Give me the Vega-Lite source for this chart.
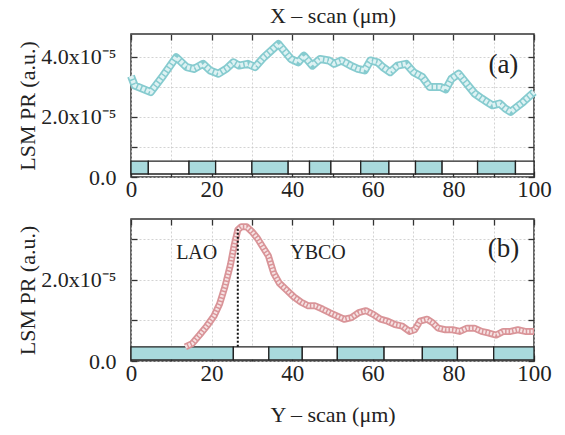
{
  "$schema": "https://vega.github.io/schema/vega-lite/v6.json",
  "padding": {"left": 16, "top": 3, "right": 5, "bottom": 5},
  "background": "white",
  "bounds": "flush",
  "spacing": 42,
  "config": {
    "font": "Liberation Serif",
    "view": {"stroke": "#333", "strokeWidth": 1.5},
    "axis": {
      "labelFont": "Liberation Serif",
      "titleFont": "Liberation Serif",
      "labelColor": "#222",
      "titleColor": "#222",
      "labelFontSize": 22,
      "titleFontSize": 22,
      "titleFontWeight": "normal",
      "tickColor": "#333",
      "tickSize": -6,
      "tickWidth": 1.3,
      "domain": false,
      "gridColor": "#c8c8c8",
      "gridDash": [2, 2],
      "gridWidth": 0.8
    }
  },
  "datasets": {
    "xscan": [
      {"pos": 0, "pr": 3.35e-5}, {"pos": 0.9, "pr": 3.04e-5}, {"pos": 4.9, "pr": 2.82e-5},
      {"pos": 8, "pr": 3.37e-5}, {"pos": 11.2, "pr": 3.98e-5}, {"pos": 13.8, "pr": 3.65e-5},
      {"pos": 15.6, "pr": 3.59e-5}, {"pos": 17.9, "pr": 3.76e-5}, {"pos": 19.6, "pr": 3.54e-5},
      {"pos": 21.7, "pr": 3.43e-5}, {"pos": 23.7, "pr": 3.6e-5}, {"pos": 25.4, "pr": 3.81e-5},
      {"pos": 26.8, "pr": 3.7e-5}, {"pos": 29, "pr": 3.76e-5}, {"pos": 30.8, "pr": 3.65e-5},
      {"pos": 33, "pr": 3.98e-5}, {"pos": 36.6, "pr": 4.42e-5}, {"pos": 39.7, "pr": 3.92e-5},
      {"pos": 41.5, "pr": 3.81e-5}, {"pos": 42.9, "pr": 4.03e-5}, {"pos": 45, "pr": 3.7e-5},
      {"pos": 46.9, "pr": 3.92e-5}, {"pos": 49.1, "pr": 3.87e-5}, {"pos": 50.4, "pr": 3.76e-5},
      {"pos": 52.2, "pr": 3.87e-5}, {"pos": 54.5, "pr": 3.7e-5}, {"pos": 56.3, "pr": 3.59e-5},
      {"pos": 58, "pr": 3.54e-5}, {"pos": 59.4, "pr": 3.87e-5}, {"pos": 61.2, "pr": 3.81e-5},
      {"pos": 62.5, "pr": 3.65e-5}, {"pos": 64.3, "pr": 3.48e-5}, {"pos": 66.1, "pr": 3.7e-5},
      {"pos": 68.3, "pr": 3.76e-5}, {"pos": 70.1, "pr": 3.48e-5}, {"pos": 72.3, "pr": 3.32e-5},
      {"pos": 74.1, "pr": 2.99e-5}, {"pos": 76.8, "pr": 2.99e-5}, {"pos": 78.1, "pr": 2.91e-5},
      {"pos": 79.5, "pr": 3.26e-5}, {"pos": 81.3, "pr": 3.43e-5}, {"pos": 83, "pr": 3.15e-5},
      {"pos": 85.3, "pr": 2.77e-5}, {"pos": 87.1, "pr": 2.6e-5}, {"pos": 88.4, "pr": 2.49e-5},
      {"pos": 89.7, "pr": 2.38e-5}, {"pos": 91.5, "pr": 2.44e-5}, {"pos": 92.9, "pr": 2.27e-5},
      {"pos": 94.2, "pr": 2.16e-5}, {"pos": 95.5, "pr": 2.3e-5}, {"pos": 97.3, "pr": 2.49e-5},
      {"pos": 100, "pr": 2.82e-5}
    ],
    "yscan": [
      {"pos": 13.5, "pr": 0.35e-5}, {"pos": 15.2, "pr": 0.43e-5}, {"pos": 17, "pr": 0.64e-5},
      {"pos": 18.8, "pr": 0.86e-5}, {"pos": 20.6, "pr": 1.11e-5}, {"pos": 22, "pr": 1.41e-5},
      {"pos": 23.3, "pr": 1.83e-5}, {"pos": 24.7, "pr": 2.38e-5}, {"pos": 25.6, "pr": 2.85e-5},
      {"pos": 26.5, "pr": 3.23e-5}, {"pos": 27.4, "pr": 3.31e-5}, {"pos": 28.7, "pr": 3.31e-5},
      {"pos": 30, "pr": 3.19e-5}, {"pos": 31.4, "pr": 3.02e-5}, {"pos": 32.7, "pr": 2.81e-5},
      {"pos": 34.1, "pr": 2.59e-5}, {"pos": 35.4, "pr": 2.17e-5}, {"pos": 36.8, "pr": 1.92e-5},
      {"pos": 38.6, "pr": 1.75e-5}, {"pos": 40.4, "pr": 1.58e-5}, {"pos": 42.2, "pr": 1.45e-5},
      {"pos": 44, "pr": 1.36e-5}, {"pos": 45.7, "pr": 1.36e-5}, {"pos": 47.5, "pr": 1.28e-5},
      {"pos": 49.3, "pr": 1.19e-5}, {"pos": 51.1, "pr": 1.11e-5}, {"pos": 52.9, "pr": 1.03e-5},
      {"pos": 54.7, "pr": 1.07e-5}, {"pos": 56.5, "pr": 1.19e-5}, {"pos": 58.3, "pr": 1.24e-5},
      {"pos": 60.1, "pr": 1.15e-5}, {"pos": 61.9, "pr": 1.03e-5}, {"pos": 63.7, "pr": 0.98e-5},
      {"pos": 65.5, "pr": 0.9e-5}, {"pos": 67.3, "pr": 0.86e-5}, {"pos": 69.1, "pr": 0.73e-5},
      {"pos": 70.4, "pr": 0.77e-5}, {"pos": 71.7, "pr": 0.98e-5}, {"pos": 73.5, "pr": 1.03e-5},
      {"pos": 74.9, "pr": 0.94e-5}, {"pos": 76.2, "pr": 0.81e-5}, {"pos": 78, "pr": 0.77e-5},
      {"pos": 79.8, "pr": 0.77e-5}, {"pos": 81.6, "pr": 0.73e-5}, {"pos": 83.4, "pr": 0.81e-5},
      {"pos": 85.2, "pr": 0.81e-5}, {"pos": 87, "pr": 0.73e-5}, {"pos": 88.8, "pr": 0.69e-5},
      {"pos": 90.6, "pr": 0.64e-5}, {"pos": 92.4, "pr": 0.73e-5}, {"pos": 94.2, "pr": 0.73e-5},
      {"pos": 96, "pr": 0.77e-5}, {"pos": 97.8, "pr": 0.73e-5}, {"pos": 100, "pr": 0.73e-5}
    ],
    "xstrips": [
      {"start": 0, "end": 4.3, "kind": "shaded"}, {"start": 4.3, "end": 14.4, "kind": "blank"},
      {"start": 14.4, "end": 21, "kind": "shaded"}, {"start": 21, "end": 30, "kind": "blank"},
      {"start": 30, "end": 39, "kind": "shaded"}, {"start": 39, "end": 44.3, "kind": "blank"},
      {"start": 44.3, "end": 49.6, "kind": "shaded"}, {"start": 49.6, "end": 57, "kind": "blank"},
      {"start": 57, "end": 64, "kind": "shaded"}, {"start": 64, "end": 70.6, "kind": "blank"},
      {"start": 70.6, "end": 77.2, "kind": "shaded"}, {"start": 77.2, "end": 86, "kind": "blank"},
      {"start": 86, "end": 95.4, "kind": "shaded"}, {"start": 95.4, "end": 100, "kind": "blank"}
    ],
    "ystrips": [
      {"start": 0, "end": 25.4, "kind": "shaded"}, {"start": 25.4, "end": 34.2, "kind": "blank"},
      {"start": 34.2, "end": 42.5, "kind": "shaded"}, {"start": 42.5, "end": 51.2, "kind": "blank"},
      {"start": 51.2, "end": 62.8, "kind": "shaded"}, {"start": 62.8, "end": 72.3, "kind": "blank"},
      {"start": 72.3, "end": 81, "kind": "shaded"}, {"start": 81, "end": 90, "kind": "blank"},
      {"start": 90, "end": 100, "kind": "shaded"}
    ]
  },
  "vconcat": [
    {
      "width": 403,
      "height": 143,
      "layer": [
        {
          "data": {"name": "xstrips"},
          "mark": {"type": "rect", "stroke": "#222", "strokeWidth": 1.3},
          "encoding": {
            "x": {"field": "start", "type": "quantitative",
              "scale": {"domain": [0, 100], "nice": false, "zero": false},
              "axis": {"orient": "bottom", "values": [0,10,20,30,40,50,60,70,80,90,100],
                "labelExpr": "datum.value % 20 == 0 ? datum.value : ''", "labelPadding": 7, "labelFontSize": 23, "title": null, "grid": true, "labelFlush": false}},
            "x2": {"field": "end"},
            "y": {"datum": 0.1e-5, "type": "quantitative",
              "scale": {"domain": [0, 4.75e-5], "nice": false, "zero": false},
              "axis": {"orient": "left", "values": [0, 1e-5, 2e-5, 3e-5, 4e-5],
                "labelExpr": "datum.value == 0 ? '0.0' : (round(datum.value*1e5) % 2 == 0 ? format(datum.value*1e5, '.1f') + 'x10⁻⁵' : '')",
                "labelPadding": 21, "title": "LSM PR (a.u.)", "titlePadding": 1, "grid": true}},
            "y2": {"datum": 0.53e-5},
            "fill": {"field": "kind", "type": "nominal",
              "scale": {"domain": ["shaded", "blank"], "range": ["#a9dadd", "#ffffff"]}, "legend": null}
          }
        },
        {
          "data": {"name": "xscan"},
          "mark": {"type": "line", "stroke": "#86cbcf", "strokeWidth": 8, "strokeJoin": "round"},
          "encoding": {
            "x": {"field": "pos", "type": "quantitative",
              "axis": {"orient": "top", "values": [0,10,20,30,40,50,60,70,80,90,100], "labels": false,
                "title": "X – scan (μm)", "titlePadding": 6, "grid": false}},
            "y": {"field": "pr", "type": "quantitative",
              "axis": {"orient": "right", "values": [0, 1e-5, 2e-5, 3e-5, 4e-5], "labels": false, "title": null, "grid": false}}
          }
        },
        {
          "data": {"name": "xscan"},
          "mark": {"type": "line", "stroke": "#def2f3", "strokeWidth": 4.5, "strokeJoin": "round", "strokeDash": [3, 1.5]},
          "encoding": {
            "x": {"field": "pos", "type": "quantitative", "axis": null},
            "y": {"field": "pr", "type": "quantitative", "axis": null}
          }
        },
        {
          "data": {"values": [{"pos": 92.4, "pr": 3.72e-5, "label": "(a)"}]},
          "mark": {"type": "text", "fontSize": 27, "font": "Liberation Serif", "color": "#222"},
          "encoding": {
            "x": {"field": "pos", "type": "quantitative", "axis": null},
            "y": {"field": "pr", "type": "quantitative", "axis": null},
            "text": {"field": "label"}
          }
        }
      ]
    },
    {
      "width": 403,
      "height": 142,
      "layer": [
        {
          "data": {"name": "ystrips"},
          "mark": {"type": "rect", "stroke": "#222", "strokeWidth": 1.3},
          "encoding": {
            "x": {"field": "start", "type": "quantitative",
              "scale": {"domain": [0, 100], "nice": false, "zero": false},
              "axis": {"orient": "bottom", "values": [0,10,20,30,40,50,60,70,80,90,100],
                "labelExpr": "datum.value % 20 == 0 ? datum.value : ''", "labelPadding": 7, "labelFontSize": 23,
                "title": "Y – scan (μm)", "titlePadding": 19, "grid": true, "labelFlush": false}},
            "x2": {"field": "end"},
            "y": {"datum": 0.03e-5, "type": "quantitative",
              "scale": {"domain": [0, 3.5e-5], "nice": false, "zero": false},
              "axis": {"orient": "left", "values": [0, 1e-5, 2e-5, 3e-5],
                "labelExpr": "datum.value == 0 ? '0.0' : (round(datum.value*1e5) % 2 == 0 ? format(datum.value*1e5, '.1f') + 'x10⁻⁵' : '')",
                "labelPadding": 21, "title": "LSM PR (a.u.)", "titlePadding": 1, "grid": true}},
            "y2": {"datum": 0.35e-5},
            "fill": {"field": "kind", "type": "nominal",
              "scale": {"domain": ["shaded", "blank"], "range": ["#a9dadd", "#ffffff"]}, "legend": null}
          }
        },
        {
          "data": {"name": "yscan"},
          "mark": {"type": "line", "stroke": "#d99498", "strokeWidth": 7, "strokeJoin": "round"},
          "encoding": {
            "x": {"field": "pos", "type": "quantitative",
              "axis": {"orient": "top", "values": [0,10,20,30,40,50,60,70,80,90,100], "labels": false, "title": null, "grid": false}},
            "y": {"field": "pr", "type": "quantitative",
              "axis": {"orient": "right", "values": [0, 1e-5, 2e-5, 3e-5], "labels": false, "title": null, "grid": false}}
          }
        },
        {
          "data": {"name": "yscan"},
          "mark": {"type": "line", "stroke": "#f6e3e4", "strokeWidth": 3.5, "strokeJoin": "round", "strokeDash": [2, 1.5]},
          "encoding": {
            "x": {"field": "pos", "type": "quantitative", "axis": null},
            "y": {"field": "pr", "type": "quantitative", "axis": null}
          }
        },
        {
          "data": {"values": [{"pos": 26.5, "lo": 0.35e-5, "hi": 3.25e-5}]},
          "mark": {"type": "rule", "color": "#111", "strokeWidth": 2, "strokeDash": [2, 2]},
          "encoding": {
            "x": {"field": "pos", "type": "quantitative", "axis": null},
            "y": {"field": "lo", "type": "quantitative", "axis": null},
            "y2": {"field": "hi"}
          }
        },
        {
          "data": {"values": [
            {"pos": 16.3, "pr": 2.65e-5, "label": "LAO"},
            {"pos": 46.4, "pr": 2.65e-5, "label": "YBCO"}
          ]},
          "mark": {"type": "text", "fontSize": 20, "font": "Liberation Serif", "color": "#222"},
          "encoding": {
            "x": {"field": "pos", "type": "quantitative", "axis": null},
            "y": {"field": "pr", "type": "quantitative", "axis": null},
            "text": {"field": "label"}
          }
        },
        {
          "data": {"values": [{"pos": 92.4, "pr": 2.76e-5, "label": "(b)"}]},
          "mark": {"type": "text", "fontSize": 27, "font": "Liberation Serif", "color": "#222"},
          "encoding": {
            "x": {"field": "pos", "type": "quantitative", "axis": null},
            "y": {"field": "pr", "type": "quantitative", "axis": null},
            "text": {"field": "label"}
          }
        }
      ]
    }
  ]
}
